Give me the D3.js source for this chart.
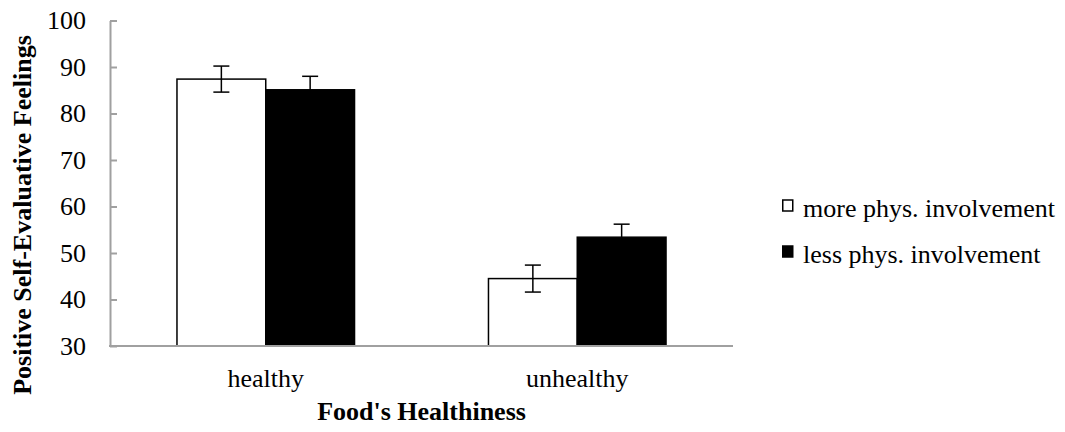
<!DOCTYPE html>
<html>
<head>
<meta charset="utf-8">
<script src="https://cdn.jsdelivr.net/npm/d3@7"></script>
<style>
  html, body { margin: 0; padding: 0; background: #fff; }
  svg { display: block; }
</style>
</head>
<body>
<svg id="chart" width="1065" height="432"></svg>
<script>
const categories = ["healthy", "unhealthy"];
const seriesNames = ["more phys. involvement", "less phys. involvement"];
const moreValues = [87.4, 44.5];
const lessValues = [85.1, 53.4];
const moreErrors = [2.8, 2.9];
const lessErrors = [2.9, 2.8];
const yTicks = [30, 40, 50, 60, 70, 80, 90, 100];
const xTitle = "Food's Healthiness";
const yTitle = "Positive Self-Evaluative Feelings";

const seriesValues = [moreValues, lessValues];
const seriesErrors = [moreErrors, lessErrors];
const seriesFill = ["#ffffff", "#000000"];
const FONT = "Liberation Serif";
const FS = "26px";

const svg = d3.select("#chart");
const mLeft = 110, mRight = 733, mTop = 20.5, mBottom = 346;

const x = d3.scaleBand().domain(categories).range([mLeft, mRight])
  .paddingInner(0.43).paddingOuter(0.215);
const xs = d3.scaleBand().domain(seriesNames).range([0, x.bandwidth()]).padding(0);
const y = d3.scaleLinear().domain([30, 100]).range([mBottom, mTop]);

const rows = [];
categories.forEach((c, i) => {
  seriesNames.forEach((s, j) => {
    rows.push({ c, s, j, v: seriesValues[j][i], e: seriesErrors[j][i] });
  });
});

const g = svg.append("g");
g.selectAll("rect.bar").data(rows).enter().append("rect")
  .attr("class", "bar")
  .attr("x", d => x(d.c) + xs(d.s))
  .attr("y", d => y(d.v))
  .attr("width", xs.bandwidth())
  .attr("height", d => y(30) - y(d.v))
  .attr("fill", d => seriesFill[d.j])
  .attr("stroke", "#000")
  .attr("stroke-width", 1.5);

const cx = d => x(d.c) + xs(d.s) + xs.bandwidth() / 2;
const eb = g.selectAll("g.err").data(rows).enter().append("g").attr("class", "err")
  .attr("stroke", "#000").attr("stroke-width", 1.5);
eb.append("line")
  .attr("x1", cx).attr("x2", cx)
  .attr("y1", d => y(d.v + d.e)).attr("y2", d => y(d.v - d.e));
eb.append("line")
  .attr("x1", d => cx(d) - 8).attr("x2", d => cx(d) + 8)
  .attr("y1", d => y(d.v + d.e)).attr("y2", d => y(d.v + d.e));
eb.append("line")
  .attr("x1", d => cx(d) - 8).attr("x2", d => cx(d) + 8)
  .attr("y1", d => y(d.v - d.e)).attr("y2", d => y(d.v - d.e));

const yAxis = svg.append("g").attr("transform", `translate(${mLeft},0)`)
  .call(d3.axisLeft(y).tickValues(yTicks).tickSizeInner(-7).tickSizeOuter(0).tickPadding(24));
yAxis.select(".domain").attr("stroke", "#a0a0a0").attr("stroke-width", 2);
yAxis.selectAll(".tick line").attr("stroke", "#a0a0a0").attr("stroke-width", 2);
yAxis.selectAll(".tick text").style("font-size", FS).style("font-family", FONT).attr("fill", "#000");

const xAxis = svg.append("g").attr("transform", `translate(0,${mBottom})`)
  .call(d3.axisBottom(x).tickSize(0).tickPadding(23));
xAxis.select(".domain").attr("stroke", "#a0a0a0").attr("stroke-width", 2)
  .attr("d", `M${mLeft - 1},0H${mRight}`);
xAxis.selectAll(".tick text").style("font-size", FS).style("font-family", FONT).attr("fill", "#000");

svg.append("text").attr("x", (mLeft + mRight) / 2).attr("y", 420)
  .attr("text-anchor", "middle").style("font-size", FS).style("font-family", FONT)
  .style("font-weight", "bold")
  .text(xTitle);
svg.append("text").attr("transform", "translate(31,215) rotate(-90)")
  .attr("text-anchor", "middle").style("font-size", FS).style("font-family", FONT)
  .style("font-weight", "bold")
  .text(yTitle);

const legend = svg.append("g").attr("transform", "translate(782,0)");
const ly = [217, 263];
const li = legend.selectAll("g").data(seriesNames).enter().append("g")
  .attr("transform", (d, i) => `translate(0,${ly[i]})`);
li.append("rect").attr("x", 0.75).attr("y", -17).attr("width", 10).attr("height", 11)
  .attr("fill", (d, i) => seriesFill[i]).attr("stroke", "#000").attr("stroke-width", 1.5);
li.append("text").attr("x", 21).attr("y", 0).style("font-size", FS).style("font-family", FONT)
  .text(d => d);
</script>
</body>
</html>
